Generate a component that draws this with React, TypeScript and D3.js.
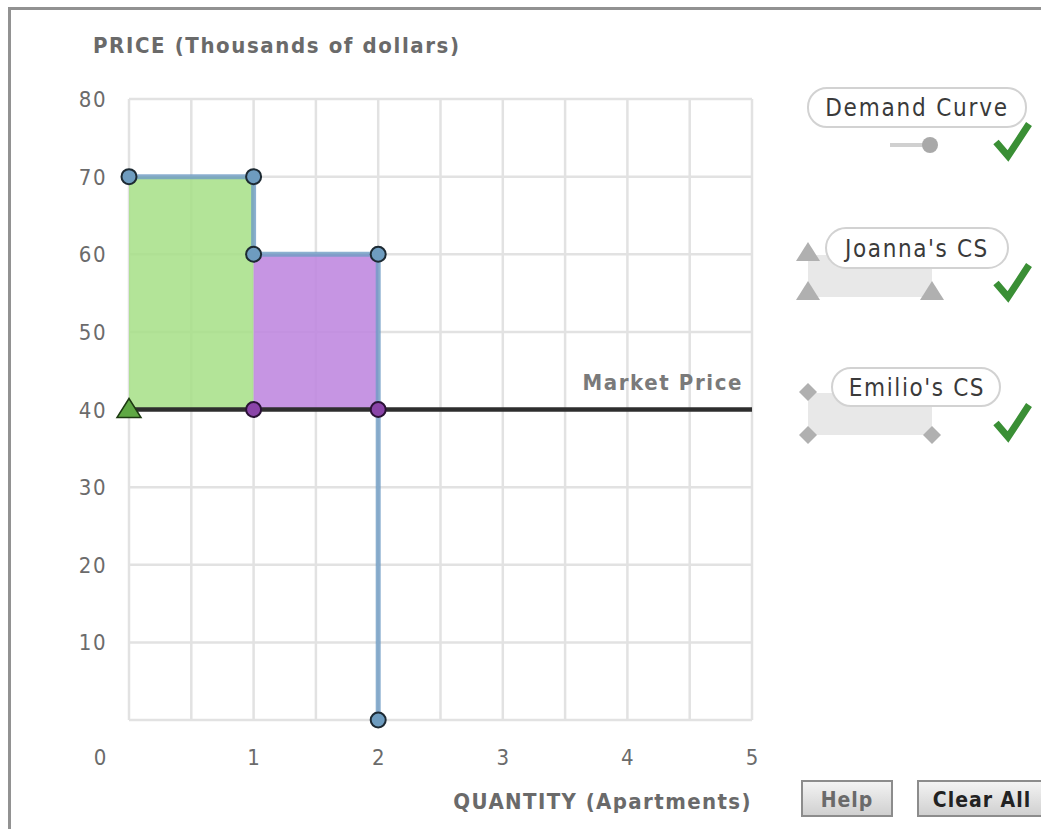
import React from "react";
import * as d3 from "d3";

// demand curve corner points (quantity, price)
const demandPoints: [number, number][] = [
  [0, 70],
  [1, 70],
  [1, 60],
  [2, 60],
  [2, 0],
];
const marketPrice = 40;
const joannaCS = { q0: 0, q1: 1, top: 70 };
const emilioCS = { q0: 1, q1: 2, top: 60 };
const xTicks = [0, 1, 2, 3, 4, 5];
const yTicks = [10, 20, 30, 40, 50, 60, 70, 80];
const xGrid = d3.range(0, 5.01, 0.5);
const yGrid = d3.range(0, 80.1, 10);
const legendItems = ["Demand Curve", "Joanna's CS", "Emilio's CS"];

const FONT = "'DejaVu Sans Condensed', 'Liberation Sans Narrow', sans-serif";

const App: React.FC = () => {
  const width = 1041;
  const height = 829;
  const x = d3.scaleLinear().domain([0, 5]).range([129, 752]);
  const y = d3.scaleLinear().domain([0, 80]).range([720, 99]);

  const demandLine = d3
    .line<[number, number]>()
    .x((d) => x(d[0]))
    .y((d) => y(d[1]));

  const check = (cy: number) =>
    `M${996},${cy + 2} L${1008},${cy + 16} L${1029},${cy - 16}`;

  const tri = (cx: number, cy: number) =>
    `M${cx},${cy - 10} L${cx + 12},${cy + 9} L${cx - 12},${cy + 9} Z`;
  const diamond = (cx: number, cy: number) =>
    `M${cx},${cy - 9} L${cx + 9},${cy} L${cx},${cy + 9} L${cx - 9},${cy} Z`;

  return (
    <svg
      width={width}
      height={height}
      style={{ position: "absolute", left: 0, top: 0, display: "block", background: "#fff" }}
      fontFamily={FONT}
    >
      <defs>
        <linearGradient id="btn" x1="0" y1="0" x2="0" y2="1">
          <stop offset="0" stopColor="#f4f4f4" />
          <stop offset="1" stopColor="#cfcfcf" />
        </linearGradient>
      </defs>

      {/* outer frame */}
      <rect x={9.5} y={8.5} width={1040} height={830} fill="none" stroke="#929292" strokeWidth={3} />

      {/* grid */}
      {xGrid.map((g) => (
        <line key={"vx" + g} x1={x(g)} x2={x(g)} y1={y(80)} y2={y(0)} stroke="#e2e2e2" strokeWidth={2.5} />
      ))}
      {yGrid.map((g) => (
        <line key={"hy" + g} x1={x(0)} x2={x(5)} y1={y(g)} y2={y(g)} stroke="#e2e2e2" strokeWidth={2.5} />
      ))}

      {/* consumer surplus areas */}
      <rect
        x={x(joannaCS.q0)}
        y={y(joannaCS.top)}
        width={x(joannaCS.q1) - x(joannaCS.q0)}
        height={y(marketPrice) - y(joannaCS.top)}
        fill="#a6df86"
        fillOpacity={0.85}
      />
      <rect
        x={x(emilioCS.q0)}
        y={y(emilioCS.top)}
        width={x(emilioCS.q1) - x(emilioCS.q0)}
        height={y(marketPrice) - y(emilioCS.top)}
        fill="#c08ae0"
        fillOpacity={0.9}
      />

      {/* demand curve */}
      <path d={demandLine(demandPoints) || ""} fill="none" stroke="#6f9cc4" strokeOpacity={0.8} strokeWidth={5} />

      {/* market price */}
      <line x1={x(0)} x2={x(5)} y1={y(marketPrice)} y2={y(marketPrice)} stroke="#2e2e2e" strokeWidth={4.5} />
      <text x={743} y={390} textAnchor="end" fontSize={22} fontWeight="bold" letterSpacing={1.6} fill="#7a7a7a">
        Market Price
      </text>

      {/* demand points */}
      {demandPoints.map((p, i) => (
        <circle key={"dp" + i} cx={x(p[0])} cy={y(p[1])} r={7.5} fill="#6e9cbf" stroke="#1d2a33" strokeWidth={2} />
      ))}

      {/* CS markers on market price */}
      <path d={tri(x(joannaCS.q0), y(marketPrice) - 1)} fill="#5fa844" stroke="#1d3a12" strokeWidth={1.5} />
      {[emilioCS.q0, emilioCS.q1].map((q) => (
        <circle key={"ep" + q} cx={x(q)} cy={y(marketPrice)} r={7.5} fill="#8a44a8" stroke="#2a1236" strokeWidth={2} />
      ))}

      {/* axis tick labels */}
      {yTicks.map((t) => (
        <text key={"yt" + t} x={107} y={y(t) + 8} textAnchor="end" fontSize={22} letterSpacing={1.5} fill="#6b6b6b">
          {t}
        </text>
      ))}
      {xTicks.map((t) => (
        <text
          key={"xt" + t}
          x={t === 0 ? 100 : x(t)}
          y={765}
          textAnchor="middle"
          fontSize={22}
          fill="#6b6b6b"
        >
          {t}
        </text>
      ))}

      {/* axis titles */}
      <text x={93} y={53} fontSize={22} fontWeight="bold" letterSpacing={1.6} fill="#6a6a6a">
        PRICE (Thousands of dollars)
      </text>
      <text x={752} y={809} textAnchor="end" fontSize={22} fontWeight="bold" letterSpacing={1.4} fill="#6a6a6a">
        QUANTITY (Apartments)
      </text>

      {/* legend: Demand Curve */}
      <rect x={808} y={88} width={218} height={39} rx={19} fill="#fff" stroke="#d2d2d2" strokeWidth={2} />
      <text x={917} y={116} textAnchor="middle" fontSize={24} letterSpacing={1.8} fill="#3a3a3a">
        {legendItems[0]}
      </text>
      <line x1={890} x2={925} y1={145} y2={145} stroke="#d0d0d0" strokeWidth={4} />
      <circle cx={930} cy={145} r={8} fill="#a9a9a9" />
      <path d={check(140)} fill="none" stroke="#3a8f35" strokeWidth={7} strokeLinejoin="miter" />

      {/* legend: Joanna's CS */}
      <rect x={808} y={255} width={124} height={42} fill="#e8e8e8" />
      <path d={tri(808, 252)} fill="#b0b0b0" />
      <path d={tri(808, 291)} fill="#b0b0b0" />
      <path d={tri(932, 291)} fill="#b0b0b0" />
      <rect x={826} y={228} width={182} height={40} rx={20} fill="#fff" stroke="#d2d2d2" strokeWidth={2} />
      <text x={917} y={257} textAnchor="middle" fontSize={24} letterSpacing={1.6} fill="#3a3a3a">
        {legendItems[1]}
      </text>
      <path d={check(281)} fill="none" stroke="#3a8f35" strokeWidth={7} />

      {/* legend: Emilio's CS */}
      <rect x={808} y={393} width={124} height={42} fill="#e8e8e8" />
      <path d={diamond(808, 392)} fill="#b0b0b0" />
      <path d={diamond(808, 435)} fill="#b0b0b0" />
      <path d={diamond(932, 435)} fill="#b0b0b0" />
      <rect x={832} y={368} width={168} height={38} rx={19} fill="#fff" stroke="#d2d2d2" strokeWidth={2} />
      <text x={917} y={396} textAnchor="middle" fontSize={24} letterSpacing={1.6} fill="#3a3a3a">
        {legendItems[2]}
      </text>
      <path d={check(421)} fill="none" stroke="#3a8f35" strokeWidth={7} />

      {/* buttons */}
      <rect x={802} y={781} width={90} height={35} fill="url(#btn)" stroke="#8c8c8c" strokeWidth={2} />
      <text x={847} y={807} textAnchor="middle" fontSize={21} fontWeight="bold" letterSpacing={1} fill="#6a6a6a">
        Help
      </text>
      <rect x={918} y={781} width={130} height={35} fill="url(#btn)" stroke="#8c8c8c" strokeWidth={2} />
      <text x={982} y={807} textAnchor="middle" fontSize={21} fontWeight="bold" letterSpacing={1} fill="#222">
        Clear All
      </text>
    </svg>
  );
};

export default App;
